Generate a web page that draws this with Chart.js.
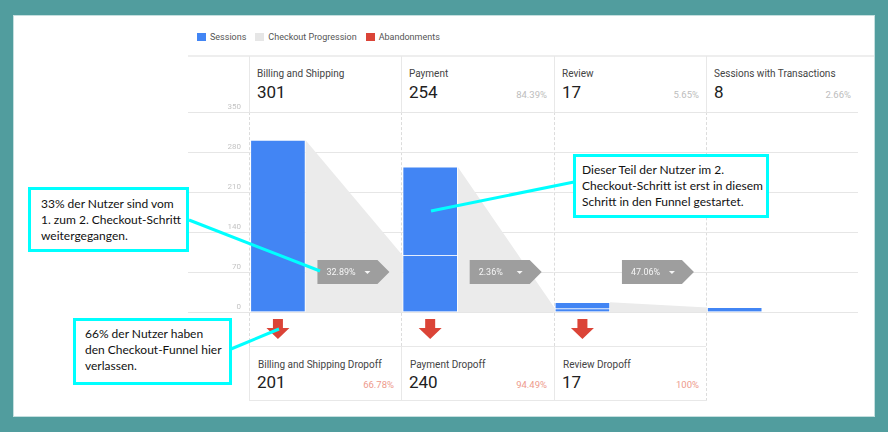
<!DOCTYPE html>
<html>
<head>
<meta charset="utf-8">
<script src="https://cdn.jsdelivr.net/npm/chart.js@4.4.1/dist/chart.umd.min.js"></script>
<style>
  html, body { margin: 0; padding: 0; }
  body { width: 888px; height: 432px; background: #519d9e; position: relative; overflow: hidden; font-family: Roboto, sans-serif; }
  .abs { position: absolute; }
  .panel { left: 14px; top: 16px; width: 860px; height: 400px; background: #fff; box-shadow: 0 0 0 1px #c4dfdf; }
  .legend { left: 197px; top: 31px; height: 12px; display: flex; align-items: center; font-size: 9px; color: #555; z-index: 1; }
  .legend i { display: inline-block; width: 9px; height: 8px; margin-right: 4px; }
  .legend span { margin-right: 9px; }
  .line { background: #e8e8e8; z-index: 1; }
  .dash { width: 0; border-left: 1px dashed #dcdcdc; z-index: 1; }
  .lbl { font-size: 10px; line-height: 10px; color: #444; white-space: nowrap; z-index: 1; }
  .num { font-size: 17px; line-height: 17px; color: #212121; z-index: 1; }
  .pct { font-size: 9.5px; line-height: 10px; color: #bdbdbd; text-align: right; z-index: 1; }
  .pct.drop { color: #ee9a8c; }
  canvas { position: absolute; left: 0; top: 0; z-index: 2; }
  svg { position: absolute; left: 0; top: 0; z-index: 3; }
  .note { position: absolute; box-sizing: border-box; border: 3px solid #00ffff; background: #fff; z-index: 4;
          font-family: Lato, sans-serif; font-size: 12px; line-height: 16px; color: #111; white-space: nowrap; }
</style>
</head>
<body>
<div class="abs panel"></div>
<div class="abs legend">
  <i style="background:#4285f4"></i><span>Sessions</span>
  <i style="background:#e6e6e6"></i><span>Checkout Progression</span>
  <i style="background:#db4437"></i><span>Abandonments</span>
</div>
<canvas id="funnel" width="888" height="432"></canvas>
<svg width="888" height="432">
  <g stroke="#00ffff" stroke-width="3" stroke-linecap="butt">
    <line x1="189" y1="220" x2="320" y2="271"/>
    <line x1="231" y1="349" x2="279" y2="329"/>
    <line x1="574" y1="182" x2="431" y2="211"/>
  </g>
</svg>
<div class="note" style="left:28px;top:187px;width:161px;height:65px;padding:6px 0 0 10px;">33% der Nutzer sind vom<br>1. zum 2. Checkout-Schritt<br>weitergegangen.</div>
<div class="note" style="left:73px;top:318px;width:159px;height:67px;padding:5px 0 0 9px;">66% der Nutzer haben<br>den Checkout-Funnel hier<br>verlassen.</div>
<div class="note" style="left:573px;top:154px;width:196px;height:64px;padding:5px 0 0 6px;">Dieser Teil der Nutzer im 2.<br>Checkout-Schritt ist erst in diesem<br>Schritt in den Funnel gestartet.</div>

<script>
// funnel steps
const steps = ['Billing and Shipping', 'Payment', 'Review', 'Sessions with Transactions'];
const sessions = [301, 254, 17, 8];
const stepShare = [null, 84.39, 5.65, 2.66];
// sessions that came on from the previous step
const carriedOver = [null, 99, 6, 8];
const progression = [32.89, 2.36, 47.06];

// dropoffs
const dropoffSteps = ['Billing and Shipping Dropoff', 'Payment Dropoff', 'Review Dropoff'];
const dropoffs = [201, 240, 17];
const dropoffShare = [66.78, 94.49, 100];

const yTicks = [0, 70, 140, 210, 280, 350];

const BAR_WIDTH = 55;
const BAR_SHIFT = 0.19;   // bars sit at the left of their column
const TAG_LEVEL = 70;     // the progression tags sit on this grid line

const newEntries = sessions.map((v, i) => (v - (carriedOver[i] || 0)) || null);

Chart.defaults.font.family = 'Roboto';

const progressionArea = {
  id: 'progressionArea',
  beforeDatasetsDraw(chart) {
    const { ctx, scales: { x, y } } = chart;
    const base = y.getPixelForValue(0);
    ctx.save();
    ctx.fillStyle = '#ebebeb';
    for (let i = 0; i < sessions.length - 1; i++) {
      const x0 = x.getPixelForValue(i + BAR_SHIFT) + BAR_WIDTH / 2;
      const x1 = x.getPixelForValue(i + 1 + BAR_SHIFT) - BAR_WIDTH / 2;
      ctx.beginPath();
      ctx.moveTo(x0, y.getPixelForValue(sessions[i]));
      ctx.lineTo(x1, y.getPixelForValue(carriedOver[i + 1]));
      ctx.lineTo(x1, base);
      ctx.lineTo(x0, base);
      ctx.closePath();
      ctx.fill();
    }
    ctx.restore();
  }
};

const tagsAndArrows = {
  id: 'tagsAndArrows',
  afterDatasetsDraw(chart) {
    const { ctx, chartArea, scales: { x, y } } = chart;
    const yc = y.getPixelForValue(TAG_LEVEL);
    ctx.save();
    progression.forEach((p, i) => {
      const left = x.getPixelForValue(i + BAR_SHIFT) + BAR_WIDTH / 2 + 12;
      ctx.fillStyle = '#9e9e9e';
      ctx.beginPath();
      ctx.moveTo(left, yc - 12);
      ctx.lineTo(left + 60, yc - 12);
      ctx.lineTo(left + 72, yc);
      ctx.lineTo(left + 60, yc + 12);
      ctx.lineTo(left, yc + 12);
      ctx.closePath();
      ctx.fill();
      ctx.fillStyle = '#f5f5f5';
      ctx.font = '9px Roboto';
      ctx.textBaseline = 'middle';
      ctx.fillText(p.toFixed(2) + '%', left + 9, yc + 0.5);
      ctx.beginPath();
      ctx.moveTo(left + 47, yc - 1);
      ctx.lineTo(left + 53, yc - 1);
      ctx.lineTo(left + 50, yc + 2);
      ctx.closePath();
      ctx.fill();
    });
    // abandonment arrows
    ctx.fillStyle = '#db4437';
    dropoffs.forEach((d, i) => {
      const cx = x.getPixelForValue(i + BAR_SHIFT);
      const t = chartArea.bottom + 7;
      ctx.beginPath();
      ctx.moveTo(cx - 5, t);
      ctx.lineTo(cx + 5, t);
      ctx.lineTo(cx + 5, t + 9);
      ctx.lineTo(cx + 11.5, t + 9);
      ctx.lineTo(cx, t + 20);
      ctx.lineTo(cx - 11.5, t + 9);
      ctx.lineTo(cx - 5, t + 9);
      ctx.closePath();
      ctx.fill();
    });
    ctx.restore();
  }
};

const barStyle = {
  backgroundColor: '#4285f4',
  borderColor: 'rgba(255,255,255,0.6)',
  borderWidth: 1,
  barThickness: BAR_WIDTH,
  stack: 'sessions'
};

const chart = new Chart(document.getElementById('funnel'), {
  type: 'bar',
  data: {
    datasets: [
      Object.assign({ label: 'Sessions (from previous step)', data: carriedOver.map((v, i) => ({ x: i + BAR_SHIFT, y: v })) }, barStyle),
      Object.assign({ label: 'Sessions (entered here)', data: newEntries.map((v, i) => ({ x: i + BAR_SHIFT, y: v })) }, barStyle)
    ]
  },
  options: {
    responsive: false,
    animation: false,
    layout: { padding: { left: 188, right: 30, top: 112, bottom: 120 } },
    plugins: { legend: { display: false }, tooltip: { enabled: false } },
    scales: {
      x: { type: 'linear', min: 0, max: steps.length, offset: false, stacked: true, display: false },
      y: {
        min: yTicks[0], max: yTicks[yTicks.length - 1], stacked: true,
        afterBuildTicks: s => { s.ticks = yTicks.map(v => ({ value: v })); },
        ticks: { color: '#c4c4c4', font: { size: 8 }, padding: -53, labelOffset: -5 },
        grid: { color: '#e6e6e6', tickLength: 61 },
        border: { display: false },
        afterFit: s => { s.width = 61; s.paddingTop = 0; s.paddingBottom = 0; }
      }
    }
  },
  plugins: [progressionArea, tagsAndArrows]
});

// table cells round the chart, placed on the chart's own x scale
const xs = chart.scales.x;
const colX = i => Math.round(xs.getPixelForValue(i));
function add(cls, style, text) {
  const d = document.createElement('div');
  d.className = 'abs ' + cls;
  Object.assign(d.style, style);
  if (text !== undefined) d.textContent = text;
  document.body.appendChild(d);
  return d;
}
add('line', { left: '188px', top: '55px', width: '686px', height: '2px', background: '#eeeeee' });
steps.forEach((s, i) => {
  const l = colX(i), r = colX(i + 1);
  add('line', { left: l + 'px', top: '56px', width: '1px', height: '56px' });
  add('dash', { left: l + 'px', top: '112px', height: (i < 3 ? 234 : 289) + 'px' });
  add('lbl', { left: (l + 8) + 'px', top: '68.5px' }, s);
  add('num', { left: (l + 8) + 'px', top: '83.5px' }, String(sessions[i]));
  if (stepShare[i] !== null) add('pct', { left: l + 'px', width: (r - l - 7) + 'px', top: '90px' }, stepShare[i].toFixed(2) + '%');
});
const dl = colX(0), dr = colX(3);
add('line', { left: dl + 'px', top: '346px', width: (dr - dl) + 'px', height: '1px' });
add('line', { left: dl + 'px', top: '400px', width: (dr - dl + 1) + 'px', height: '1px' });
dropoffSteps.forEach((s, i) => {
  const l = colX(i), r = colX(i + 1);
  add('line', { left: l + 'px', top: '346px', width: '1px', height: '55px' });
  add('lbl', { left: (l + 9) + 'px', top: '359.5px' }, s);
  add('num', { left: (l + 8) + 'px', top: '374px' }, String(dropoffs[i]));
  add('pct drop', { left: l + 'px', width: (r - l - 7) + 'px', top: '380px' }, dropoffShare[i] % 1 === 0 ? dropoffShare[i] + '%' : dropoffShare[i].toFixed(2) + '%');
});
</script>
</body>
</html>
